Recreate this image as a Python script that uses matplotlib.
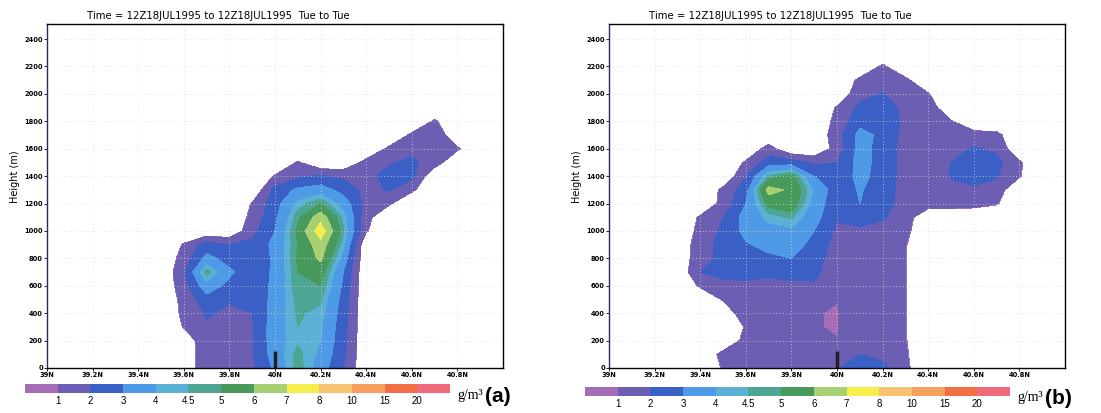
import numpy as np
import matplotlib.pyplot as plt
from matplotlib.colors import ListedColormap, BoundaryNorm
from matplotlib.ticker import NullLocator

# grid of the cross section
lat = [39.3, 39.4, 39.5, 39.6, 39.7, 39.8, 39.9, 40.0, 40.1,
       40.2, 40.3, 40.4, 40.5, 40.6, 40.7, 40.8, 40.9, 41.0]
hgt = [2400, 2300, 2200, 2100, 2000, 1900, 1800, 1700, 1600, 1500, 1400, 1300,
       1200, 1100, 1000, 900, 800, 700, 600, 500, 400, 300, 200, 100, 0]

# concentration (g/m3), rows from 2400 m down to 0 m
conc_a = [
    [0, 0, 0, 0, 0, 0, 0, 0, 0, 0, 0, 0, 0, 0, 0, 0, 0, 0],
    [0, 0, 0, 0, 0, 0, 0, 0, 0, 0, 0, 0, 0, 0, 0, 0, 0, 0],
    [0, 0, 0, 0, 0, 0, 0, 0, 0, 0, 0, 0, 0, 0, 0, 0, 0, 0],
    [0, 0, 0, 0, 0, 0, 0, 0, 0, 0, 0, 0, 0, 0, 0, 0, 0, 0],
    [0, 0, 0, 0, 0, 0, 0, 0, 0, 0, 0, 0, 0, 0, 0, 0, 0, 0],
    [0, 0, 0, 0, 0, 0, 0, 0, 0, 0, 0, 0, 0, 0, 0, 0, 0, 0],
    [0, 0, 0, 0, 0, 0, 0, 0, 0, 0, 0, 0, 0, 0, 1.1, 0, 0, 0],
    [0, 0, 0, 0, 0, 0, 0, 0, 0, 0, 0, 0, 0, 1.15, 1.8, 0, 0, 0],
    [0, 0, 0, 0, 0, 0, 0, 0, 0, 0, 0, 0, 1.15, 1.7, 1.8, 1.1, 0, 0],
    [0, 0, 0, 0, 0, 0, 0, 0, 1.05, 0, 0, 1.3, 1.9, 2.2, 1.5, 0, 0, 0],
    [0, 0, 0, 0, 0, 0, 0, 1.05, 1.8, 2.1, 1.8, 1.6, 2.4, 2.3, 0, 0, 0, 0],
    [0, 0, 0, 0, 0, 0, 0, 2.3, 3.2, 3.5, 2.6, 1.7, 2.1, 1.15, 0, 0, 0, 0],
    [0, 0, 0, 0, 0, 0, 1.02, 2.6, 4.2, 5.0, 3.6, 1.6, 1.1, 0, 0, 0, 0, 0],
    [0, 0, 0, 0, 0, 0, 1.25, 2.8, 4.8, 6.6, 4.3, 1.3, 0, 0, 0, 0, 0, 0],
    [0, 0, 0, 0, 0, 0, 1.7, 3.0, 5.2, 7.6, 4.6, 1.05, 0, 0, 0, 0, 0, 0],
    [0, 0, 0, 1.05, 2.5, 2.0, 2.2, 3.3, 5.0, 6.6, 4.2, 0, 0, 0, 0, 0, 0, 0],
    [0, 0, 0, 1.4, 3.3, 2.6, 2.2, 3.2, 5.1, 6.2, 3.6, 0, 0, 0, 0, 0, 0, 0],
    [0, 0, 0, 1.8, 4.8, 3.2, 2.3, 3.2, 5.0, 5.4, 3.0, 0, 0, 0, 0, 0, 0, 0],
    [0, 0, 0, 1.6, 3.6, 2.7, 2.2, 3.3, 4.9, 5.0, 2.8, 0, 0, 0, 0, 0, 0, 0],
    [0, 0, 0, 1.3, 2.6, 2.1, 2.1, 3.4, 4.7, 4.6, 2.6, 0, 0, 0, 0, 0, 0, 0],
    [0, 0, 0, 1.2, 2.1, 1.8, 2.0, 3.5, 4.6, 4.3, 2.5, 0, 0, 0, 0, 0, 0, 0],
    [0, 0, 0, 1.02, 1.9, 1.6, 1.9, 3.6, 4.5, 4.1, 2.4, 0, 0, 0, 0, 0, 0, 0],
    [0, 0, 0, 0, 1.9, 1.6, 1.9, 3.6, 4.4, 4.0, 2.3, 0, 0, 0, 0, 0, 0, 0],
    [0, 0, 0, 0, 1.8, 1.5, 1.9, 3.5, 4.7, 3.8, 2.2, 0, 0, 0, 0, 0, 0, 0],
    [0, 0, 0, 0, 1.8, 1.5, 1.8, 3.2, 4.8, 3.5, 2.0, 0, 0, 0, 0, 0, 0, 0],
]

conc_b = [
    [0, 0, 0, 0, 0, 0, 0, 0, 0, 0, 0, 0, 0, 0, 0, 0, 0, 0],
    [0, 0, 0, 0, 0, 0, 0, 0, 0, 0, 0, 0, 0, 0, 0, 0, 0, 0],
    [0, 0, 0, 0, 0, 0, 0, 0, 0, 1.15, 0, 0, 0, 0, 0, 0, 0, 0],
    [0, 0, 0, 0, 0, 0, 0, 0, 1.2, 1.6, 1.2, 0, 0, 0, 0, 0, 0, 0],
    [0, 0, 0, 0, 0, 0, 0, 0, 1.7, 2.05, 1.5, 1.02, 0, 0, 0, 0, 0, 0],
    [0, 0, 0, 0, 0, 0, 0, 1.05, 2.2, 2.5, 1.7, 1.6, 0, 0, 0, 0, 0, 0],
    [0, 0, 0, 0, 0, 0, 0, 1.3, 2.7, 2.6, 1.8, 1.5, 1.05, 0, 0, 0, 0, 0],
    [0, 0, 0, 0, 0, 0, 0, 1.6, 3.3, 2.8, 1.6, 1.5, 1.5, 1.4, 1.25, 0, 0, 0],
    [0, 0, 0, 0, 1.4, 0, 0, 1.4, 3.4, 2.6, 1.6, 1.5, 1.6, 2.1, 1.8, 0, 0, 0],
    [0, 0, 0, 1.1, 2.5, 2.5, 1.8, 2.0, 3.4, 2.6, 1.6, 1.4, 2.0, 2.6, 2.3, 1.1, 0, 0],
    [0, 0, 0, 1.9, 4.6, 5.3, 3.0, 2.3, 3.3, 2.6, 1.6, 1.3, 2.1, 2.5, 2.1, 1.05, 0, 0],
    [0, 0, 1.2, 2.6, 6.4, 5.8, 3.9, 2.4, 3.1, 2.5, 1.6, 1.3, 1.6, 1.8, 1.5, 0, 0, 0],
    [0, 0, 1.3, 3.0, 5.3, 5.6, 3.6, 2.3, 3.0, 2.5, 1.5, 1.5, 1.5, 1.4, 1.05, 0, 0, 0],
    [0, 1.1, 2.0, 3.4, 4.2, 4.6, 3.4, 2.1, 2.6, 2.1, 1.5, 0, 0, 0, 0, 0, 0, 0],
    [0, 1.3, 2.2, 3.3, 3.7, 3.8, 3.0, 1.8, 1.7, 1.7, 1.25, 0, 0, 0, 0, 0, 0, 0],
    [0, 1.6, 2.3, 2.9, 3.3, 3.4, 2.7, 1.6, 1.5, 1.5, 1.02, 0, 0, 0, 0, 0, 0, 0],
    [0, 1.7, 2.2, 2.6, 2.8, 3.0, 2.4, 1.5, 1.4, 1.4, 1.02, 0, 0, 0, 0, 0, 0, 0],
    [0, 2.0, 2.3, 2.3, 2.2, 2.3, 2.2, 1.5, 1.3, 1.3, 1.02, 0, 0, 0, 0, 0, 0, 0],
    [0, 1.1, 1.7, 1.8, 1.7, 1.8, 1.9, 1.4, 1.3, 1.3, 1.02, 0, 0, 0, 0, 0, 0, 0],
    [0, 0, 1.05, 1.5, 1.5, 1.5, 1.3, 1.01, 1.3, 1.3, 1.02, 0, 0, 0, 0, 0, 0, 0],
    [0, 0, 0, 1.8, 1.5, 1.4, 1.02, 0.97, 1.3, 1.3, 1.02, 0, 0, 0, 0, 0, 0, 0],
    [0, 0, 0, 1.05, 1.4, 1.4, 1.02, 0.97, 1.4, 1.3, 1.02, 0, 0, 0, 0, 0, 0, 0],
    [0, 0, 0, 1.3, 1.4, 1.4, 1.3, 1.01, 1.6, 1.5, 1.02, 0, 0, 0, 0, 0, 0, 0],
    [0, 0, 1.3, 1.4, 1.4, 1.4, 1.4, 1.5, 2.0, 1.7, 1.1, 0, 0, 0, 0, 0, 0, 0],
    [0, 0, 1.05, 1.3, 1.3, 1.3, 1.4, 1.9, 2.6, 2.3, 1.2, 0, 0, 0, 0, 0, 0, 0],
]

levels = [0.95, 1, 2, 3, 4, 4.5, 5, 6, 7, 8, 10, 15, 20, 1000]
level_labels = ['1', '2', '3', '4', '4.5', '5', '6', '7', '8', '10', '15', '20']
colors = ['#a46db6', '#6c5fb3', '#3a60c6', '#4f9ae6', '#5bb0d6', '#4fa593',
          '#479a5c', '#a7d072', '#f6ee4a', '#f8c270', '#f7a05e', '#f26f45', '#ef6a7a']

xticks = [39.0, 39.2, 39.4, 39.6, 39.8, 40.0, 40.2, 40.4, 40.6, 40.8]
xticklabels = ['39N', '39.2N', '39.4N', '39.6N', '39.8N', '40N', '40.2N', '40.4N', '40.6N', '40.8N']
yticks = [0, 200, 400, 600, 800, 1000, 1200, 1400, 1600, 1800, 2000, 2200, 2400]
title = 'Time = 12Z18JUL1995 to 12Z18JUL1995  Tue to Tue'
station_lat = 40.0
station_top = 125

W, H = 1101, 413
cmap = ListedColormap(colors)
norm = BoundaryNorm(levels, cmap.N)


def px(x, y, w=0, h=0):
    return [x / W, 1 - (y + h) / H, w / W, h / H]


fig = plt.figure(figsize=(W / 100, H / 100), dpi=100)

# (data, axes left, colorbar left, colorbar top, tag)
panels = [(conc_a, 47, 25, 384, 'a'), (conc_b, 609, 585, 387, 'b')]
for conc, ax_left, cb_left, cb_top, tag in panels:
    ax = fig.add_axes(px(ax_left, 24, 456, 344))
    z = np.array(conc, dtype=float)
    cs = ax.contourf(lat, hgt, z, levels=levels, colors=colors)
    ax.vlines(station_lat, 0, station_top, color='#202020', lw=2.5, zorder=5)
    ax.set_xlim(39, 41)
    ax.set_ylim(0, 2510)
    ax.set_xticks(xticks)
    ax.set_xticklabels(xticklabels, fontsize=4.8, fontweight='bold')
    ax.set_yticks(yticks)
    ax.set_yticklabels([str(v) for v in yticks], fontsize=4.8, fontweight='bold')
    ax.tick_params(length=2, width=0.6, pad=1)
    ax.grid(True, ls=(0, (1, 3)), color='#dcdcdc', lw=0.6)
    ax.set_axisbelow(False)
    for s in ax.spines.values():
        s.set_linewidth(1.0)
        s.set_zorder(10)
    ax.spines['left'].set_color('#2a2a60')
    fig.text((ax_left - 32) / W, 1 - 177 / H, 'Height (m)', rotation=90,
             fontsize=7, ha='center', va='center')
    fig.text((ax_left + 40) / W, 1 - 16 / H, title, fontsize=7.3, va='center')

    cax = fig.add_axes(px(cb_left, cb_top, 425, 9))
    cb = fig.colorbar(plt.cm.ScalarMappable(norm=norm, cmap=cmap), cax=cax,
                      orientation='horizontal', spacing='uniform',
                      ticks=levels[1:-1])
    cb.set_ticklabels(level_labels)
    cb.outline.set_visible(False)
    cax.xaxis.set_minor_locator(NullLocator())
    cax.tick_params(which='both', length=0, pad=2, labelsize=7)
    for t in cax.get_xticklabels():
        t.set_family('Liberation Sans')
    fig.text((cb_left + 432) / W, 1 - (cb_top + 11) / H, 'g/m\u00b3',
             family='Liberation Serif', fontsize=10, va='center')
    fig.text((cb_left + 460) / W, 1 - (cb_top + 12) / H, '(' + tag + ')',
             family='Liberation Sans', fontsize=15, fontweight='bold', va='center')

fig.savefig('out.png', dpi=100)
